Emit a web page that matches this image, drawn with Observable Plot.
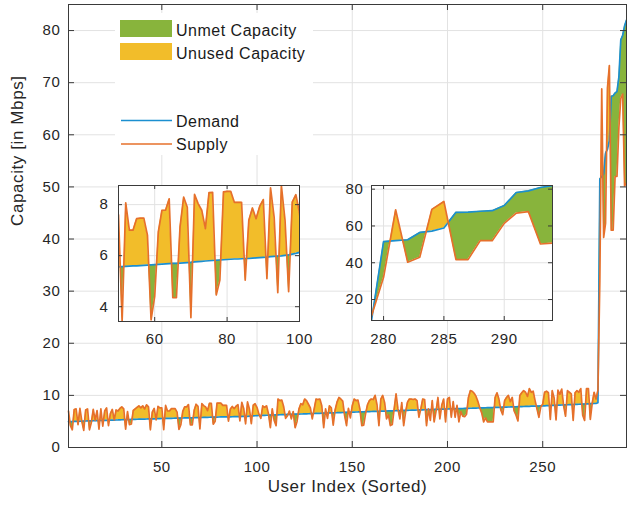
<!DOCTYPE html>
<html><head><meta charset="utf-8">
<script src="https://cdn.jsdelivr.net/npm/d3@7"></script>
<script src="https://cdn.jsdelivr.net/npm/@observablehq/plot@0.6"></script>
<style>
body{margin:0;background:#fff;}
#wrap{position:relative;width:627px;height:506px;overflow:hidden;}
#wrap svg{position:absolute;}
</style></head><body><div id="wrap"></div><script>
// ---------- data ----------
const demand = [
4.95,4.97,4.98,5.00,5.01,5.02,5.04,5.05,5.06,5.08,
5.09,5.10,5.11,5.13,5.14,5.15,5.17,5.18,5.19,5.21,
5.22,5.23,5.24,5.26,5.27,5.28,5.29,5.31,5.32,5.33,
5.34,5.35,5.37,5.38,5.39,5.40,5.42,5.43,5.44,5.45,
5.46,5.47,5.48,5.49,5.50,5.51,5.52,5.53,5.54,5.56,
5.57,5.58,5.59,5.60,5.60,5.61,5.62,5.63,5.64,5.65,
5.66,5.67,5.68,5.69,5.70,5.70,5.71,5.72,5.73,5.74,
5.76,5.77,5.78,5.79,5.80,5.81,5.82,5.83,5.84,5.85,
5.86,5.87,5.87,5.88,5.89,5.89,5.90,5.91,5.92,5.93,
5.94,5.96,5.97,5.98,5.99,6.01,6.03,6.06,6.09,6.13,
6.14,6.15,6.17,6.18,6.19,6.20,6.22,6.23,6.24,6.26,
6.27,6.28,6.30,6.31,6.32,6.34,6.35,6.36,6.38,6.39,
6.40,6.42,6.43,6.44,6.46,6.47,6.48,6.50,6.51,6.52,
6.54,6.55,6.56,6.58,6.59,6.60,6.62,6.63,6.64,6.66,
6.67,6.68,6.70,6.71,6.72,6.74,6.75,6.76,6.78,6.79,
6.80,6.81,6.82,6.84,6.85,6.86,6.87,6.88,6.90,6.91,
6.92,6.93,6.94,6.96,6.97,6.98,6.99,7.00,7.02,7.03,
7.04,7.05,7.06,7.08,7.09,7.10,7.11,7.12,7.14,7.15,
7.16,7.17,7.18,7.20,7.21,7.22,7.23,7.24,7.26,7.27,
7.28,7.29,7.30,7.32,7.33,7.34,7.35,7.36,7.38,7.39,
7.40,7.41,7.42,7.44,7.45,7.46,7.47,7.48,7.50,7.51,
7.52,7.53,7.54,7.56,7.57,7.58,7.59,7.60,7.62,7.63,
7.64,7.65,7.66,7.68,7.69,7.70,7.71,7.72,7.74,7.75,
7.76,7.77,7.78,7.80,7.81,7.82,7.83,7.84,7.86,7.87,
7.88,7.89,7.90,7.92,7.93,7.94,7.95,7.96,7.98,7.99,
8.00,8.02,8.03,8.05,8.07,8.08,8.10,8.12,8.13,8.15,
8.17,8.18,8.20,8.22,8.23,8.25,8.27,8.28,8.30,8.32,
8.33,8.35,8.37,8.38,8.40,8.42,8.44,8.46,8.60,51.5,
52.0,52.5,56.5,57.2,58.9,67.4,67.5,68.0,68.3,71.1,
78.2,79.1,80.9,82.0];

const supply = [
7.0,4.2,3.4,7.3,7.4,4.4,7.5,5.0,3.3,7.2,
7.4,3.4,4.8,7.3,5.2,7.1,3.5,7.4,4.1,7.0,
7.6,4.2,6.5,7.3,5.3,7.2,7.0,7.5,7.8,7.4,
3.5,6.9,4.4,4.5,7.1,7.4,7.7,8.0,7.6,8.0,
7.4,8.2,7.8,3.4,6.8,7.5,5.3,7.9,7.6,7.6,
3.42,8.07,7.0,7.0,7.45,7.47,7.47,6.8,3.48,4.4,
6.93,7.78,7.78,8.23,4.35,4.35,7.13,8.3,7.9,3.57,
8.4,8.04,7.78,7.06,8.47,8.48,4.46,5.04,8.5,8.52,
8.52,8.09,8.09,8.09,5.04,7.39,7.87,7.45,7.93,8.2,
5.1,8.66,7.5,4.55,8.74,7.39,4.59,8.1,8.39,7.67,
6.4,5.6,8.0,7.7,8.0,6.5,3.8,7.4,5.2,4.2,
9.3,9.0,9.1,7.8,5.6,6.1,7.0,5.5,6.9,3.8,
5.0,7.4,8.4,8.2,9.3,9.0,8.3,7.6,5.5,7.4,
9.3,9.2,9.3,8.0,3.8,7.4,5.6,8.0,7.6,4.3,
7.2,8.7,9.6,9.3,8.9,6.1,4.2,7.5,5.7,8.0,
9.3,9.0,9.1,7.4,4.2,4.3,6.5,8.2,9.0,9.3,
9.2,10.0,8.2,4.2,9.3,10.0,8.6,5.5,6.3,4.2,
4.4,7.4,10.3,7.4,5.5,8.6,4.2,6.8,8.7,9.3,
9.3,9.2,9.3,9.0,5.8,7.4,9.3,9.2,4.2,7.4,
5.2,9.0,4.9,7.0,9.6,5.5,8.1,9.3,4.9,9.3,
9.6,5.8,8.8,5.8,8.1,4.9,6.9,6.0,5.9,6.4,
9.6,10.9,10.8,10.4,9.8,8.8,7.6,6.6,4.9,5.7,
4.9,4.9,4.9,4.9,9.6,10.5,9.3,7.2,6.3,9.0,
9.6,10.0,8.8,9.6,7.0,6.2,5.1,10.0,10.5,10.9,
10.6,9.8,11.3,10.6,10.8,9.0,7.4,5.8,7.8,8.3,
10.6,10.8,10.5,5.4,10.9,9.5,5.3,11.0,10.2,11.2,
8.0,6.0,10.9,10.6,10.3,5.2,10.5,10.9,10.6,11.3,
6.2,5.2,11.3,11.3,5.4,8.5,10.6,9.3,11.0,32.1,
68.8,40.3,43.0,69.0,73.3,41.7,41.7,52.0,52.0,61.4,
67.0,67.8,50.2,50.7];

const userIndex = d3.range(1, demand.length + 1);   // 1..294
const mainXTicks = [50, 100, 150, 200, 250];
const mainYTicks = [0, 10, 20, 30, 40, 50, 60, 70, 80];
const inset1XTicks = [60, 80, 100];
const inset1YTicks = [4, 6, 8];
const inset2XTicks = [280, 285, 290];
const inset2YTicks = [20, 40, 60, 80];
const legendFill = ["Unmet Capacity", "Unused Capacity"];
const legendLine = ["Demand", "Supply"];

if (supply.length !== demand.length) throw new Error("length mismatch " + supply.length + " vs " + demand.length);

// ---------- styles ----------
const BLUE = "#1b8fd0", ORANGE = "#e6702b", GREEN = "#88b43c", YELLOW = "#f2bd2a";
const AXIS = "#3a3a3a", GRID = "#e2e2e2", TEXT = "#262626";
const FONT = "'Liberation Sans', Arial, Helvetica, sans-serif";

// ---------- derived rows (with crossing points for split fills) ----------
const rows = userIndex.map((x, i) => ({x, d: demand[i], s: supply[i]}));
const filled = [];
for (let i = 0; i < rows.length; i++) {
  const a = rows[i]; filled.push(a);
  const b = rows[i + 1]; if (!b) break;
  const da = a.s - a.d, db = b.s - b.d;
  if (da * db < 0) {
    const t = da / (da - db);
    const v = a.d + t * (b.d - a.d);
    filled.push({x: a.x + t * (b.x - a.x), d: v, s: v});
  }
}

function dataMarks(clip) {
  return [
    Plot.areaY(filled, {x: "x", y1: "d", y2: r => Math.max(r.s, r.d), fill: YELLOW, clip}),
    Plot.areaY(filled, {x: "x", y1: "d", y2: r => Math.min(r.s, r.d), fill: GREEN, clip}),
    Plot.line(rows, {x: "x", y: "d", stroke: BLUE, strokeWidth: 1.7, clip}),
    Plot.line(rows, {x: "x", y: "s", stroke: ORANGE, strokeWidth: 1.7, clip})
  ];
}

function axesMarks(xt, yt, innerW, innerH, tick, xPad, yPad, fs) {
  return [
    Plot.frame({stroke: AXIS, strokeWidth: 1}),
    Plot.ruleX(xt, {x: d => d, insetTop: innerH - tick, stroke: AXIS}),
    Plot.ruleX(xt, {x: d => d, insetBottom: innerH - tick, stroke: AXIS}),
    Plot.ruleY(yt, {y: d => d, insetRight: innerW - tick, stroke: AXIS}),
    Plot.ruleY(yt, {y: d => d, insetLeft: innerW - tick, stroke: AXIS}),
    Plot.axisX(xt, {anchor: "bottom", tickSize: 0, tickPadding: xPad, fontSize: fs, label: null}),
    Plot.axisY(yt, {anchor: "left", tickSize: 0, tickPadding: yPad, fontSize: fs, label: null})
  ];
}

const wrap = document.getElementById("wrap");
function place(svg, left, top) {
  svg.style.left = left + "px"; svg.style.top = top + "px";
  wrap.appendChild(svg);
}

// ---------- main chart ----------
const W = 627, H = 506, mL = 68, mT = 4, mR = 1, mB = 59;
const iW = W - mL - mR, iH = H - mT - mB;
const main = Plot.plot({
  width: W, height: H, marginLeft: mL, marginTop: mT, marginRight: mR, marginBottom: mB,
  style: {background: "transparent", fontFamily: FONT, color: TEXT, letterSpacing: "0.6px", overflow: "visible"},
  x: {domain: [1, 294]},
  y: {domain: [0, 85]},
  marks: [
    Plot.gridX(mainXTicks, {stroke: GRID, strokeOpacity: 1}),
    Plot.gridY(mainYTicks, {stroke: GRID, strokeOpacity: 1}),
    ...dataMarks(false),
    ...axesMarks(mainXTicks, mainYTicks, iW, iH, 6, 14, 8, 15),
    Plot.text(["User Index (Sorted)"], {text: d => d, frameAnchor: "bottom", dy: 44, fontSize: 17, letterSpacing: "0.8px"}),
    Plot.text(["Capacity [in Mbps]"], {text: d => d, frameAnchor: "left", dx: -51, rotate: -90, fontSize: 17, letterSpacing: "1px"})
  ]
});
place(main, 0, 0);

// ---------- inset 1 (users 50-100) ----------
{
  const l = 32, r = 6, t = 5, b = 32, w = 181, h = 136;
  const p = Plot.plot({
    width: l + w + r, height: t + h + b, marginLeft: l, marginRight: r, marginTop: t, marginBottom: b,
    style: {background: "transparent", fontFamily: FONT, color: TEXT, letterSpacing: "0.6px", overflow: "visible"},
    x: {domain: [50, 100]},
    y: {domain: [3.42, 8.75]},
    marks: [
      Plot.frame({fill: "white"}),
      Plot.gridX(inset1XTicks, {stroke: GRID, strokeOpacity: 1}),
      Plot.gridY(inset1YTicks, {stroke: GRID, strokeOpacity: 1}),
      ...dataMarks(true),
      ...axesMarks(inset1XTicks, inset1YTicks, w, h, 4, 12, 10, 15)
    ]
  });
  place(p, 118 - l, 185 - t);
}

// ---------- inset 2 (users 279-294) ----------
{
  const l = 34, r = 6, t = 5, b = 32, w = 181, h = 135;
  const p = Plot.plot({
    width: l + w + r, height: t + h + b, marginLeft: l, marginRight: r, marginTop: t, marginBottom: b,
    style: {background: "transparent", fontFamily: FONT, color: TEXT, letterSpacing: "0.6px", overflow: "visible"},
    x: {domain: [279, 294]},
    y: {domain: [8.6, 82]},
    marks: [
      Plot.frame({fill: "white"}),
      Plot.gridX(inset2XTicks, {stroke: GRID, strokeOpacity: 1}),
      Plot.gridY(inset2YTicks, {stroke: GRID, strokeOpacity: 1}),
      ...dataMarks(true),
      ...axesMarks(inset2XTicks, inset2YTicks, w, h, 4, 13, 8, 15)
    ]
  });
  place(p, 371 - l, 185 - t);
}

// ---------- legend ----------
{
  const svg = d3.create("svg").attr("width", W).attr("height", H)
    .style("font-family", FONT).style("letter-spacing", "0.5px");
  svg.append("rect").attr("x", 115).attr("y", 13).attr("width", 198).attr("height", 142).attr("fill", "white");
  const fills = [GREEN, YELLOW];
  legendFill.forEach((lab, i) => {
    svg.append("rect").attr("x", 120).attr("y", 20 + i * 23).attr("width", 52).attr("height", 17).attr("fill", fills[i]);
    svg.append("text").attr("x", 176).attr("y", 36 + i * 23).attr("font-size", 16).attr("fill", "#1a1a1a").text(lab);
  });
  const strokes = [BLUE, ORANGE];
  legendLine.forEach((lab, i) => {
    const y = 120.5 + i * 23.5;
    svg.append("line").attr("x1", 121).attr("x2", 172).attr("y1", y).attr("y2", y)
      .attr("stroke", strokes[i]).attr("stroke-width", 1.6);
    svg.append("text").attr("x", 176).attr("y", y + 6).attr("font-size", 16).attr("fill", "#1a1a1a").text(lab);
  });
  place(svg.node(), 0, 0);
}
</script></body></html>
